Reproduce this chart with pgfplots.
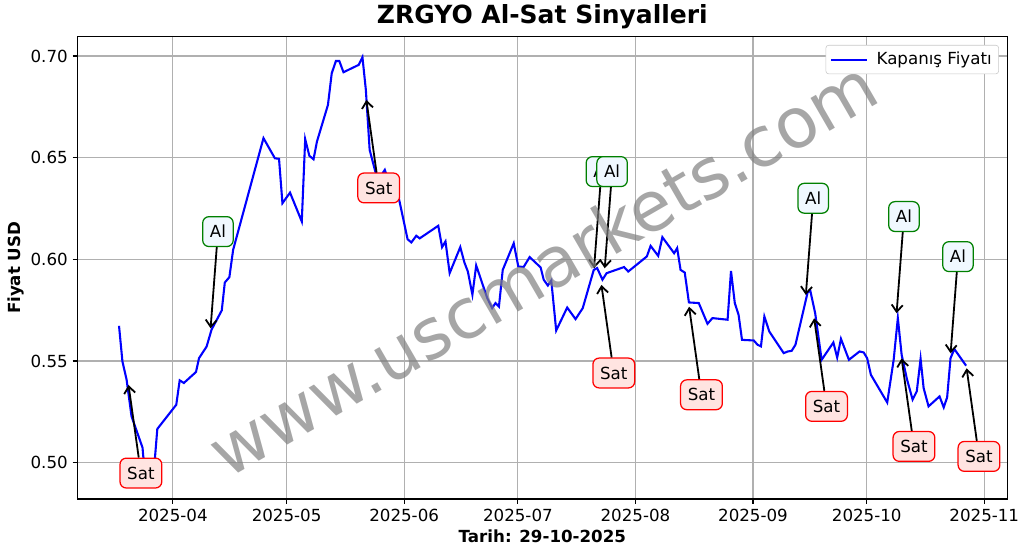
\documentclass[border=0pt]{standalone}
\usepackage{fontspec}
\setmainfont{DejaVu Sans}
\usepackage{pgfplots}
\pgfplotsset{compat=1.18}
\usetikzlibrary{arrows.meta}
\definecolor{gridgray}{HTML}{B0B0B0}
\definecolor{satfill}{HTML}{FFE4E1}
\definecolor{alfill}{HTML}{F0F8FF}
\definecolor{algreen}{HTML}{008000}
\definecolor{wmgray}{HTML}{808080}
\pgfplotstableread{
d v
-14.2 0.5673
-13.3 0.5498
-12.2 0.5408
-10.9 0.5228
-8.0 0.5074
-7.8 0.5030
-7.0 0.4950
-6.0 0.4900
-5.0 0.4960
-4.1 0.5166
0.9 0.5285
1.8 0.5405
2.9 0.5392
6.1 0.5446
6.9 0.5514
8.9 0.5571
10.2 0.5654
12.9 0.5749
13.7 0.5886
14.9 0.5912
15.9 0.6047
23.9 0.6596
26.9 0.6497
28.0 0.6494
28.9 0.6276
30.9 0.6328
34.0 0.6186
34.9 0.6591
36.0 0.6509
37.1 0.6492
38.0 0.6579
40.9 0.6759
41.9 0.6915
43.0 0.6975
43.9 0.6975
45.0 0.6920
49.0 0.6956
50.0 0.6994
50.9 0.6833
51.9 0.6538
53.4 0.6431
54.5 0.6400
55.9 0.6440
57.0 0.6380
58.0 0.6350
59.5 0.6309
61.9 0.6099
62.9 0.6083
64.2 0.6116
65.1 0.6103
70.0 0.6165
71.0 0.6060
71.9 0.6088
73.0 0.5932
75.8 0.6060
76.9 0.5984
77.8 0.5940
79.0 0.5826
80.0 0.5970
82.9 0.5810
84.2 0.5760
85.1 0.5785
86.0 0.5768
87.0 0.5948
89.9 0.6079
91.1 0.5965
92.5 0.5962
94.1 0.6011
97.0 0.5960
97.8 0.5900
98.9 0.5871
99.8 0.5896
101.1 0.5650
104.0 0.5763
106.2 0.5706
108.1 0.5760
111.0 0.5948
111.9 0.5957
113.3 0.5900
114.4 0.5932
119.0 0.5962
120.1 0.5940
125.0 0.6014
126.0 0.6066
128.0 0.6017
129.1 0.6109
132.2 0.6030
133.0 0.6055
133.9 0.5948
135.0 0.5935
136.1 0.5788
138.7 0.5785
141.0 0.5683
142.3 0.5711
146.3 0.5703
147.2 0.5943
148.2 0.5785
149.2 0.5727
150.1 0.5604
153.2 0.5601
154.2 0.5580
155.1 0.5572
156.0 0.5719
157.3 0.5645
161.1 0.5539
162.2 0.5547
163.2 0.5550
164.2 0.5580
167.4 0.5837
168.1 0.5847
169.4 0.5735
171.1 0.5506
174.2 0.5591
175.2 0.5517
176.2 0.5609
178.3 0.5506
181.1 0.5547
182.2 0.5542
183.1 0.5514
184.1 0.5432
188.4 0.5296
190.1 0.5506
191.2 0.5711
192.2 0.5531
193.6 0.5411
195.1 0.5310
196.2 0.5351
197.2 0.5511
198.0 0.5367
199.3 0.5277
202.2 0.5326
203.3 0.5272
204.2 0.5321
205.1 0.5514
206.1 0.5559
209.2 0.5477
}\pricedata
\tikzset{
  satbox/.style={draw=red, fill=satfill, line width=0.9pt, rounded corners=4.5pt,
    font=\fontsize{12}{14}\selectfont, inner xsep=5.2pt, minimum height=21.5pt, text=black,
    xshift=8.9pt, yshift=-63.4pt},
  albox/.style={draw=algreen, fill=alfill, line width=0.9pt, rounded corners=4.5pt,
    font=\fontsize{12}{14}\selectfont, inner xsep=5.2pt, minimum height=21.5pt, text=black,
    xshift=5.3pt, yshift=69.6pt},
  sigarrow/.style={-{Straight Barb[length=5pt,width=8pt]}, line width=1.3pt, black},
}
\begin{document}
\begin{tikzpicture}
\useasboundingbox (0,0) rectangle (740.88pt,398.88pt);
\begin{axis}[
  at={(55.8pt,39.6pt)}, anchor=south west,
  scale only axis, width=669.4pt, height=332.9pt,
  xmin=-25.15, xmax=220.05, ymin=0.48215, ymax=0.7095,
  xtick={0,30,61,91,122,153,183,214},
  xticklabels={2025-04,2025-05,2025-06,2025-07,2025-08,2025-09,2025-10,2025-11},
  ytick={0.5,0.55,0.6,0.65,0.7},
  yticklabels={0.50,0.55,0.60,0.65,0.70},
  xtick pos=left, ytick pos=left,
  tick align=outside, major tick length=3.5pt,
  every tick/.style={black, line width=0.8pt},
  axis line style={line width=0.8pt, black},
  grid=major, grid style={gridgray, line width=0.8pt},
  ticklabel style={font=\fontsize{12}{14}\selectfont},
  /pgf/number format/assume math mode=true,
  title={ZRGYO Al-Sat Sinyalleri},
  title style={font=\fontsize{18}{21}\selectfont\bfseries, yshift=-4pt},
  xlabel={Tarih: 29-10-2025},
  xlabel style={font=\fontsize{12}{14}\selectfont\bfseries, yshift=0.8pt},
  ylabel={Fiyat USD},
  ylabel style={font=\fontsize{12}{14}\selectfont\bfseries, yshift=-2pt},
  legend style={at={(1,1)}, anchor=north east, xshift=-6pt, yshift=-6pt,
    draw=gridgray!70, rounded corners=2pt, font=\fontsize{12}{14}\selectfont,
    inner xsep=3pt, inner ysep=3pt},
  legend cell align=left,
  legend image code/.code={\draw[#1] (0pt,0pt) -- (26pt,0pt); \path (30pt,0pt);},
]
\addplot[blue, line width=1.5pt] table[x=d, y=v] {\pricedata};
\addlegendentry{Kapanış Fiyatı}

\node[satbox] (s1) at (axis cs:-11.69,0.5382) {Sat};
\draw[sigarrow] (s1) -- (axis cs:-11.69,0.5382);
\node[albox] (a1) at (axis cs:9.95,0.5661) {Al};
\draw[sigarrow] (a1) -- (axis cs:9.95,0.5661);
\node[satbox] (s2) at (axis cs:51.03,0.6784) {Sat};
\draw[sigarrow] (s2) -- (axis cs:51.03,0.6784);
\node[albox] (a2) at (axis cs:111.08,0.5956) {Al};
\draw[sigarrow] (a2) -- (axis cs:111.08,0.5956);
\node[albox] (a3) at (axis cs:113.9,0.5956) {Al};
\draw[sigarrow] (a3) -- (axis cs:113.9,0.5956);
\node[satbox] (s3) at (axis cs:113.03,0.5874) {Sat};
\draw[sigarrow] (s3) -- (axis cs:113.03,0.5874);
\node[satbox] (s4) at (axis cs:136.15,0.5767) {Sat};
\draw[sigarrow] (s4) -- (axis cs:136.15,0.5767);
\node[albox] (a4) at (axis cs:166.94,0.5825) {Al};
\draw[sigarrow] (a4) -- (axis cs:166.94,0.5825);
\node[satbox] (s5) at (axis cs:169.13,0.5710) {Sat};
\draw[sigarrow] (s5) -- (axis cs:169.13,0.5710);
\node[albox] (a5) at (axis cs:190.87,0.5735) {Al};
\draw[sigarrow] (a5) -- (axis cs:190.87,0.5735);
\node[satbox] (s6) at (axis cs:192.19,0.5513) {Sat};
\draw[sigarrow] (s6) -- (axis cs:192.19,0.5513);
\node[albox] (a6) at (axis cs:205.12,0.5538) {Al};
\draw[sigarrow] (a6) -- (axis cs:205.12,0.5538);
\node[satbox] (s7) at (axis cs:209.34,0.5464) {Sat};
\draw[sigarrow] (s7) -- (axis cs:209.34,0.5464);

\node[rotate=30, font=\fontsize{50}{60}\selectfont, text=wmgray, text opacity=0.7]
  at (rel axis cs:0.5,0.5) {www.uscmarkets.com};
\end{axis}
\end{tikzpicture}
\end{document}
